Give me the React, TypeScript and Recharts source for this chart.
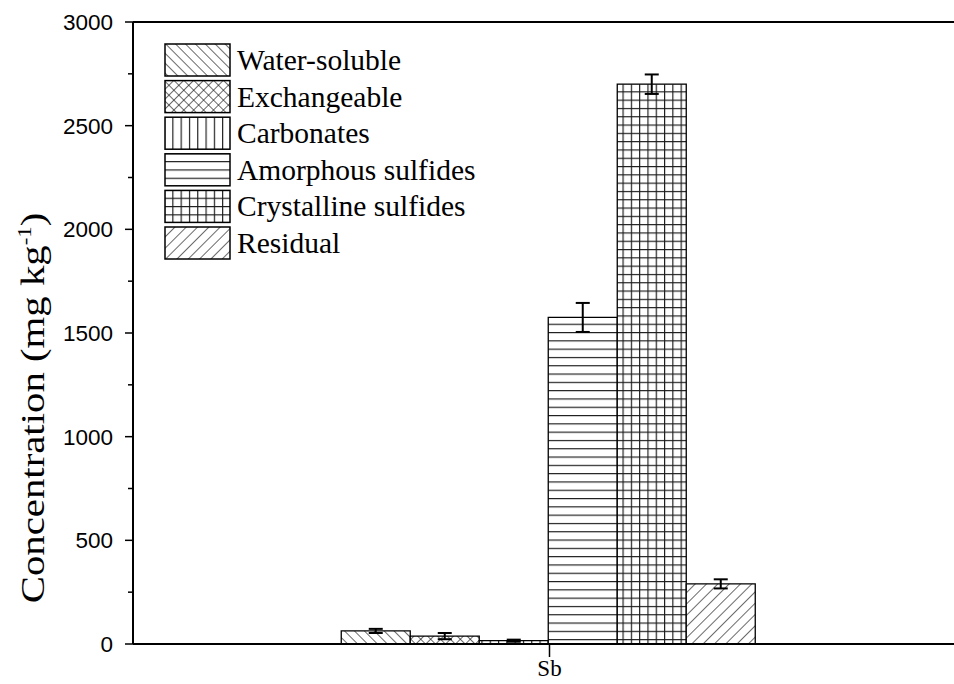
import React from 'react';
import { BarChart, Bar, XAxis, YAxis, ErrorBar, Legend, ReferenceLine } from 'recharts';

const categories = ['Sb'];
const seriesNames = ['Water-soluble', 'Exchangeable', 'Carbonates', 'Amorphous sulfides', 'Crystalline sulfides', 'Residual'];
const seriesKeys = ['ws', 'ex', 'carb', 'amor', 'cryst', 'res'];
const seriesValues = [63, 38, 16, 1575, 2700, 290];
const seriesErrors = [10, 15, 5, 70, 47, 22];
const yTicks = [0, 250, 500, 750, 1000, 1250, 1500, 1750, 2000, 2250, 2500, 2750, 3000];

const data = categories.map((c) => {
  const row: any = { name: c };
  seriesKeys.forEach((k, i) => {
    row[k] = seriesValues[i];
    row[k + 'Err'] = seriesErrors[i];
  });
  return row;
});

const LINE = '#1a1a1a';
const SERIF = "'Liberation Serif', 'Times New Roman', Times, serif";
const SANS = "'Liberation Sans', Arial, Helvetica, sans-serif";

const Patterns = ({ prefix }: { prefix: string }) => (
  <defs>
    <pattern id={prefix + 'ws'} width="7" height="7" patternUnits="userSpaceOnUse" patternTransform="rotate(-45)">
      <rect width="7" height="7" fill="#fff" />
      <line x1="0" y1="0" x2="0" y2="7" stroke={LINE} strokeWidth="1.3" />
    </pattern>
    <pattern id={prefix + 'ex'} width="7" height="7" patternUnits="userSpaceOnUse" patternTransform="rotate(45)">
      <rect width="7" height="7" fill="#fff" />
      <line x1="0" y1="0" x2="0" y2="7" stroke={LINE} strokeWidth="1.3" />
      <line x1="0" y1="0" x2="7" y2="0" stroke={LINE} strokeWidth="1.3" />
    </pattern>
    <pattern id={prefix + 'carb'} width="8.3" height="8.3" patternUnits="userSpaceOnUse">
      <rect width="8.3" height="8.3" fill="#fff" />
      <line x1="0.5" y1="0" x2="0.5" y2="8.3" stroke={LINE} strokeWidth="1.3" />
    </pattern>
    <pattern id={prefix + 'amor'} width="8.3" height="8.3" patternUnits="userSpaceOnUse">
      <rect width="8.3" height="8.3" fill="#fff" />
      <line x1="0" y1="0.5" x2="8.3" y2="0.5" stroke={LINE} strokeWidth="1.3" />
    </pattern>
    <pattern id={prefix + 'cryst'} width="8.3" height="8.3" patternUnits="userSpaceOnUse">
      <rect width="8.3" height="8.3" fill="#fff" />
      <line x1="0.5" y1="0" x2="0.5" y2="8.3" stroke={LINE} strokeWidth="1.3" />
      <line x1="0" y1="0.5" x2="8.3" y2="0.5" stroke={LINE} strokeWidth="1.3" />
    </pattern>
    <pattern id={prefix + 'res'} width="8" height="8" patternUnits="userSpaceOnUse" patternTransform="rotate(45)">
      <rect width="8" height="8" fill="#fff" />
      <line x1="0" y1="0" x2="0" y2="8" stroke={LINE} strokeWidth="1.3" />
    </pattern>
  </defs>
);

const YTick = (props: any) => {
  const { x, y, payload } = props;
  const axisX = x + 20;
  const major = payload.value % 500 === 0;
  return (
    <g>
      <line x1={axisX - (major ? 8 : 5)} x2={axisX} y1={y} y2={y} stroke="#000" strokeWidth={1.5} />
      {major && (
        <text x={x} y={y} dy="0.36em" textAnchor="end" fontFamily={SANS} fontSize={22.5} fill="#000">
          {payload.value}
        </text>
      )}
    </g>
  );
};

const XTick = (props: any) => {
  const { x, y, payload } = props;
  return (
    <g>
      <line x1={x} x2={x} y1={y} y2={y + 13} stroke="#000" strokeWidth={1.5} />
      <text x={x} y={y + 32} textAnchor="middle" fontFamily={SERIF} fontSize={23} fill="#000">
        {payload.value}
      </text>
    </g>
  );
};

const YLabel = () => (
  <text
    transform="translate(44, 408) rotate(-90) scale(1.2, 1)"
    textAnchor="middle"
    fontFamily={SERIF}
    fontSize={34}
    fill="#000"
  >
    Concentration (mg kg
    <tspan dy="-13" fontSize={19}>-1</tspan>
    <tspan dy="13">)</tspan>
  </text>
);

const LegendContent = () => (
  <svg width={360} height={230} style={{ display: 'block' }}>
    <Patterns prefix="lg-" />
    {seriesNames.map((n, i) => (
      <g key={n} transform={`translate(0, ${i * 36.6})`}>
        <rect x={1} y={1} width={65} height={32} fill={`url(#lg-${seriesKeys[i]})`} stroke="#000" strokeWidth={1.5} />
        <text x={73} y={27} fontFamily={SERIF} fontSize={29.5} fill="#000">
          {n}
        </text>
      </g>
    ))}
  </svg>
);

export default function App() {
  return (
    <div style={{ position: 'absolute', left: 0, top: 0, width: 954, height: 684, overflow: 'hidden', background: '#fff' }}>
      <BarChart
        width={980}
        height={684}
        data={data}
        margin={{ top: 22, right: 14, bottom: 0, left: 0 }}
        barCategoryGap="25%"
        barGap={0}
      >
        <Patterns prefix="ch-" />
        <XAxis
          dataKey="name"
          height={40}
          axisLine={{ stroke: '#000', strokeWidth: 2 }}
          tickLine={false}
          tick={<XTick />}
          tickSize={0}
          tickMargin={0}
        />
        <YAxis
          width={133}
          domain={[0, 3000]}
          ticks={yTicks}
          interval={0}
          axisLine={{ stroke: '#000', strokeWidth: 2 }}
          tickLine={false}
          tickSize={8}
          tickMargin={12}
          tick={<YTick />}
          label={<YLabel />}
        />
        <ReferenceLine y={3000} stroke="#000" strokeWidth={2} />
        {seriesKeys.map((k, i) => (
          <Bar key={k} dataKey={k} name={seriesNames[i]} fill={`url(#ch-${k})`} stroke="#000" strokeWidth={1.3} isAnimationActive={false}>
            <ErrorBar dataKey={k + 'Err'} width={7} stroke="#000" strokeWidth={2} direction="y" />
          </Bar>
        ))}
        <Legend
          layout="vertical"
          align="center"
          verticalAlign="middle"
          content={<LegendContent />}
          wrapperStyle={{ position: 'absolute', left: 164, top: 43, width: 360, height: 230 }}
        />
      </BarChart>
    </div>
  );
}
